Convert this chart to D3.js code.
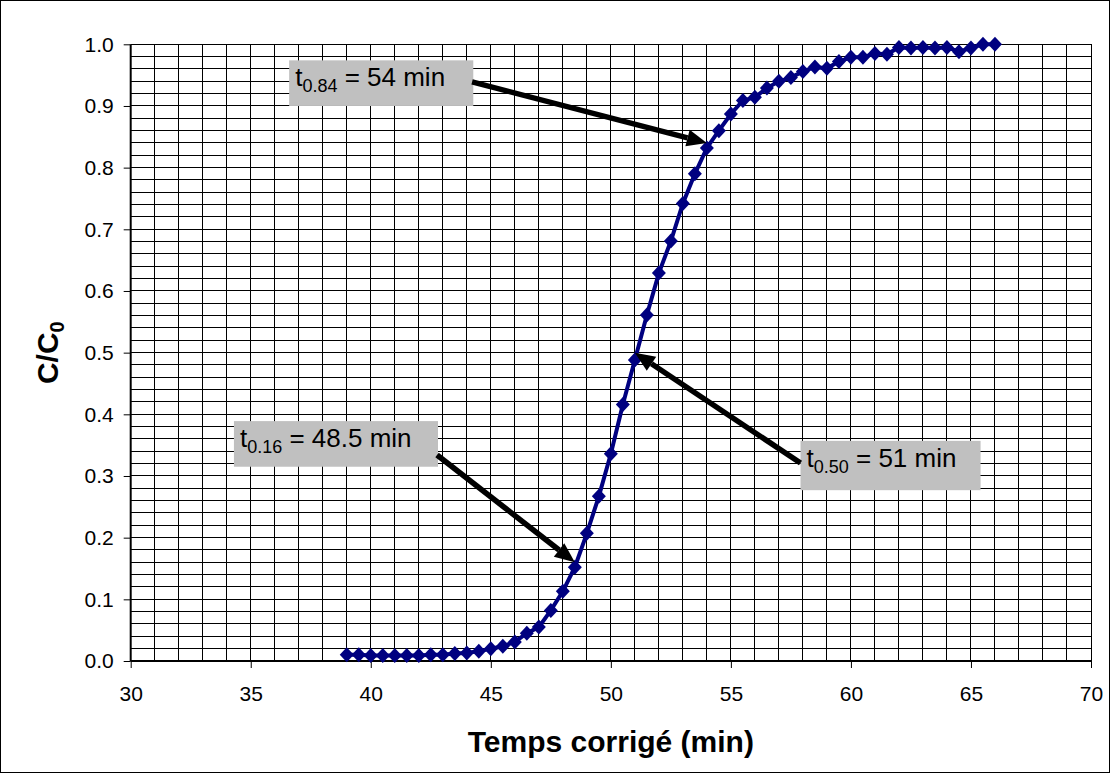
<!DOCTYPE html>
<html><head><meta charset="utf-8">
<script src="https://cdn.jsdelivr.net/npm/d3@7"></script>
<style>body{margin:0;background:#fff;} svg{display:block;font-family:"Liberation Sans",Arial,sans-serif;}</style>
</head><body>
<svg id="c" width="1111" height="774"></svg>
<script>
// data
const times = [39,39.5,40,40.5,41,41.5,42,42.5,43,43.5,44,44.5,45,45.5,46,46.5,47,47.5,48,48.5,49,49.5,50,50.5,51,51.5,52,52.5,53,53.5,54,54.5,55,55.5,56,56.5,57,57.5,58,58.5,59,59.5,60,60.5,61,61.5,62,62.5,63,63.5,64,64.5,65,65.5,66];
const ratio = [0.010,0.010,0.009,0.009,0.009,0.009,0.009,0.010,0.010,0.012,0.013,0.016,0.020,0.024,0.031,0.045,0.055,0.082,0.113,0.152,0.207,0.267,0.336,0.416,0.488,0.561,0.629,0.681,0.742,0.790,0.832,0.860,0.887,0.909,0.914,0.929,0.940,0.946,0.956,0.963,0.961,0.972,0.979,0.979,0.985,0.984,0.995,0.994,0.995,0.994,0.995,0.988,0.994,1.0,1.0];
const xTicks = [30,35,40,45,50,55,60,65,70];
const yTicks = [0,0.1,0.2,0.3,0.4,0.5,0.6,0.7,0.8,0.9,1.0];
// annotations: label sub, label rest, box [x0,x1,y0,y1] in data units, arrow start, arrow tip
const annLabels = [["0.84"," = 54 min"],["0.16"," = 48.5 min"],["0.50"," = 51 min"]];
const annBoxes = [[36.6,44.27,0.974,0.900],[34.3,42.8,0.389,0.315],[57.9,65.4,0.357,0.277]];
const annFrom = [[44.22,0.939],[42.76,0.334],[57.9,0.321]];
const annTo = [[54,0.84],[48.5,0.16],[51,0.50]];

const svg = d3.select("#c");
const L=130.7,R=1091,T=44.3,B=661;
const x = d3.scaleLinear([30,70],[L,R]);
const y = d3.scaleLinear([0,1],[B,T]);

svg.append("rect").attr("x",0.5).attr("y",0.5).attr("width",1109).attr("height",772)
  .attr("fill","#fff").attr("stroke","#000");

// grid
const g = svg.append("g").attr("shape-rendering","crispEdges");
g.selectAll("line.v").data(d3.range(31,71)).join("line")
  .attr("x1",d=>x(d)).attr("x2",d=>x(d)).attr("y1",T).attr("y2",B)
  .attr("stroke","#000").attr("stroke-width",1);
g.selectAll("line.h").data(d3.range(1,51).map(i=>i/50)).join("line")
  .attr("x1",L).attr("x2",R).attr("y1",d=>y(d)).attr("y2",d=>y(d))
  .attr("stroke","#000").attr("stroke-width",1);

// axes
const ax = svg.append("g").attr("transform",`translate(0,${B})`)
  .call(d3.axisBottom(x).tickValues(xTicks).tickSize(7).tickPadding(18).tickFormat(d3.format("d")));
const ay = svg.append("g").attr("transform",`translate(${L},0)`)
  .call(d3.axisLeft(y).tickValues(yTicks).tickSize(7).tickPadding(10).tickFormat(d3.format(".1f")));
[ax,ay].forEach(a=>{
  a.selectAll("text").attr("font-size",21).attr("fill","#000").attr("font-family","Liberation Sans, Arial, sans-serif");
  a.selectAll("line").attr("stroke","#000");
  a.select(".domain").attr("stroke","#000").attr("stroke-width",2);
});
ax.select(".domain").attr("d",`M${L},0H${R}`);
ay.select(".domain").attr("d",`M0,${B}V${T}`);

// line + markers
const pts = times.map((t,i)=>[t,ratio[i]]);
svg.append("path").datum(pts).attr("fill","none").attr("stroke","#000080").attr("stroke-width",4)
  .attr("d",d3.line().x(d=>x(d[0])).y(d=>y(d[1])));
svg.selectAll("path.m").data(pts).join("path")
  .attr("transform",d=>`translate(${x(d[0])},${y(d[1])})`)
  .attr("d","M0,-7.5L7,0L0,7.5L-7,0Z").attr("fill","#000080");

// annotations
annBoxes.forEach((b,i)=>{
  svg.append("rect").attr("x",x(b[0])).attr("y",y(b[2])).attr("width",x(b[1])-x(b[0])).attr("height",y(b[3])-y(b[2]))
    .attr("fill","#c0c0c0");
  const t = svg.append("text").attr("x",x(b[0])+6).attr("y",y(b[2])+26).attr("font-size",26).attr("fill","#000");
  t.append("tspan").text("t");
  t.append("tspan").attr("font-size",18).attr("dy",6).text(annLabels[i][0]);
  t.append("tspan").attr("dy",-6).text(annLabels[i][1]);
  const x1=x(annFrom[i][0]),y1=y(annFrom[i][1]),x2=x(annTo[i][0]),y2=y(annTo[i][1]);
  const ang=Math.atan2(y2-y1,x2-x1), hl=20, hw=8.5;
  const bx=x2-hl*Math.cos(ang), by=y2-hl*Math.sin(ang);
  svg.append("line").attr("x1",x1).attr("y1",y1).attr("x2",bx).attr("y2",by)
    .attr("stroke","#000").attr("stroke-width",5.5);
  const px=-Math.sin(ang)*hw, py=Math.cos(ang)*hw;
  svg.append("path").attr("d",`M${x2},${y2}L${bx+px},${by+py}L${bx-px},${by-py}Z`).attr("fill","#000");
});

// titles
svg.append("text").attr("x",(L+R)/2).attr("y",752).attr("text-anchor","middle")
  .attr("font-size",30).attr("font-weight","bold").text("Temps corrigé (min)");
const yt = svg.append("text").attr("transform",`translate(58,${(T+B)/2}) rotate(-90)`).attr("text-anchor","middle")
  .attr("font-size",30).attr("font-weight","bold");
yt.append("tspan").text("C/C");
yt.append("tspan").attr("font-size",20).attr("dy",6).text("0");
</script>
</body></html>
